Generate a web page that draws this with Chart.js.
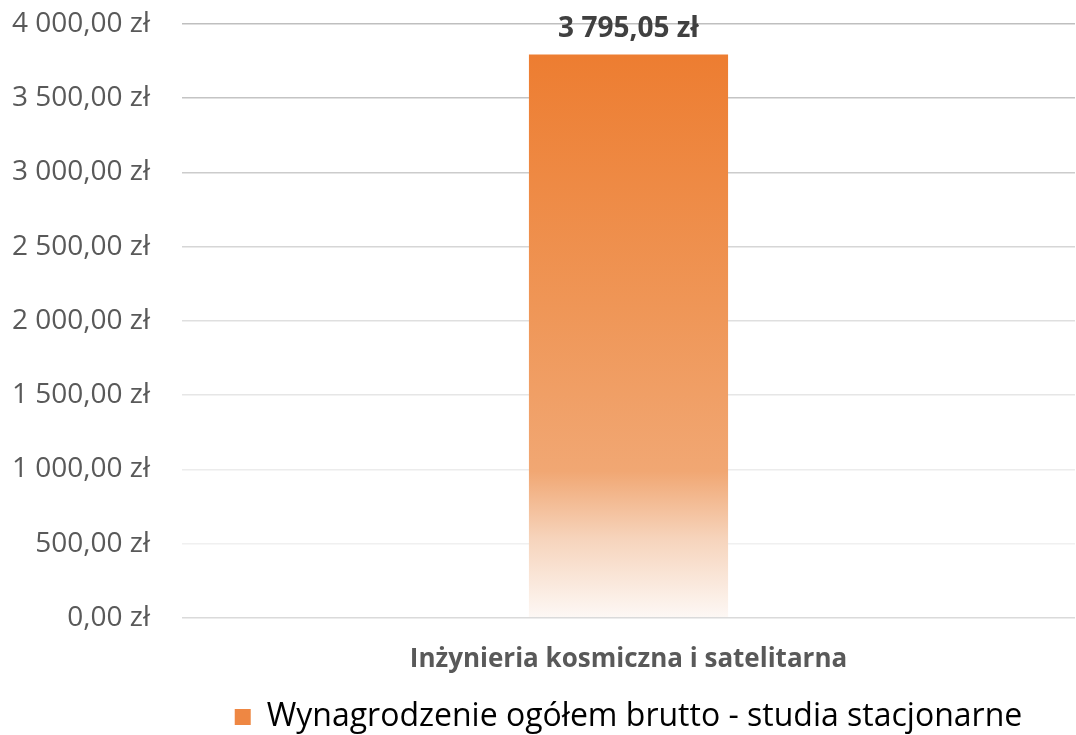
<!DOCTYPE html>
<html>
<head>
<meta charset="utf-8">
<script src="https://cdn.jsdelivr.net/npm/chart.js@4/dist/chart.umd.min.js"></script>
<style>
  html, body { margin: 0; padding: 0; background: #fff; }
  #wrap { width: 1076px; height: 735px; }
</style>
</head>
<body>
<div id="wrap"><canvas id="salaryChart" width="1076" height="735"></canvas></div>
<script>
const categories = ['Inżynieria kosmiczna i satelitarna'];
const seriesLabel = 'Wynagrodzenie ogółem brutto - studia stacjonarne';
const salaryValues = [3795.05];
const yTicks = [0, 500, 1000, 1500, 2000, 2500, 3000, 3500, 4000];

const fontFamily = "'Open Sans', 'Noto Sans', sans-serif";

const formatPln = (v) => {
    const parts = v.toFixed(2).split('.');
    const whole = parts[0].replace(/\B(?=(\d{3})+(?!\d))/g, ' ');
    return whole + ',' + parts[1] + ' zł';
};

// vertical fade from orange at the top of the bar to almost white at zero
const barFill = (context) => {
    const chart = context.chart;
    const { ctx, chartArea, scales } = chart;
    if (!chartArea) return '#ED7D31';
    const top = scales.y.getPixelForValue(salaryValues[0]);
    const bottom = scales.y.getPixelForValue(0);
    const g = ctx.createLinearGradient(0, top, 0, bottom);
    g.addColorStop(0, '#ED7D31');
    g.addColorStop(0.45, '#EF9657');
    g.addColorStop(0.74, '#F1A773');
    g.addColorStop(0.86, '#F6D4BC');
    g.addColorStop(1, '#FDF8F5');
    return g;
};

const gridColors = ['#dadada', '#f0f0f0', '#ececec', '#e6e6e6', '#dfdfdf', '#d6d6d6', '#cccccc', '#c4c4c4', '#bfbfbf'];

const valueLabels = {
    id: 'valueLabels',
    afterDatasetsDraw(chart) {
        const ctx = chart.ctx;
        const meta = chart.getDatasetMeta(0);
        ctx.save();
        ctx.font = "bold 28px " + fontFamily;
        ctx.fillStyle = '#404040';
        ctx.textAlign = 'center';
        ctx.textBaseline = 'alphabetic';
        meta.data.forEach((bar, i) => {
            ctx.fillText(formatPln(salaryValues[i]), bar.x, bar.y - 17);
        });
        ctx.restore();
    }
};

new Chart(document.getElementById('salaryChart'), {
    type: 'bar',
    data: {
        labels: categories,
        datasets: [{
            label: seriesLabel,
            data: salaryValues,
            backgroundColor: barFill,
            borderWidth: 0,
            barPercentage: 0.223,
            categoryPercentage: 1
        }]
    },
    options: {
        responsive: false,
        animation: false,
        layout: { padding: { top: 24, left: 12, right: 1, bottom: 0 } },
        scales: {
            y: {
                min: 0,
                max: 4000,
                afterBuildTicks: (axis) => { axis.ticks = yTicks.map(v => ({ value: v })); },
                afterFit: (axis) => {
                    axis.width = 170;
                    axis.paddingTop = 0;
                    axis.paddingBottom = 0;
                },
                border: { display: false },
                grid: {
                    drawTicks: false,
                    lineWidth: 1.5,
                    color: (c) => gridColors[c.index] || '#d9d9d9'
                },
                ticks: {
                    padding: 32,
                    color: '#595959',
                    font: { family: fontFamily, size: 28 },
                    callback: (v) => formatPln(v)
                }
            },
            x: {
                border: { display: false },
                grid: { display: false, drawTicks: false },
                ticks: {
                    padding: 26,
                    color: '#595959',
                    font: { family: fontFamily, size: 26, weight: 'bold' }
                }
            }
        },
        plugins: {
            tooltip: { enabled: false },
            legend: {
                position: 'bottom',
                fullSize: false,
                maxHeight: 34,
                labels: {
                    boxWidth: 16,
                    boxHeight: 16,
                    padding: 0,
                    color: '#595959',
                    font: { family: fontFamily, size: 32 },
                    generateLabels: (chart) => [{
                        text: seriesLabel,
                        fillStyle: '#EE8743',
                        strokeStyle: '#EE8743',
                        lineWidth: 0,
                        datasetIndex: 0
                    }]
                }
            }
        }
    },
    plugins: [valueLabels]
});
</script>
</body>
</html>
